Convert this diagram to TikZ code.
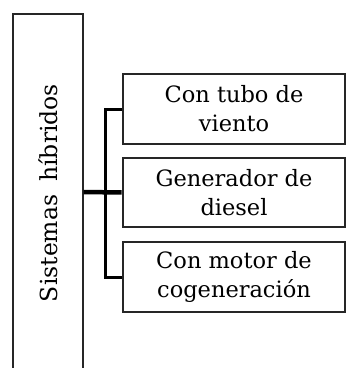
\documentclass[tikz,border=0pt]{standalone}
\usepackage{fontspec}
\setmainfont{DejaVu Serif}
\usetikzlibrary{shadows}
\tikzset{
  box/.style={draw=black!85, line width=1.3pt, fill=white, align=center,
    font=\fontsize{22.5}{29}\selectfont, inner sep=0pt,
    drop shadow={shadow xshift=1.4pt, shadow yshift=-1.4pt, fill=black!50, opacity=0.7}},
  conn/.style={draw=black, line width=3pt, line cap=butt, line join=miter},
}
\begin{document}
\begin{tikzpicture}[x=1pt,y=1pt]
\clip (0,0) rectangle (346,368);
\fill[white] (0,0) rectangle (346,368);
\node[box, minimum width=70pt, minimum height=370pt] (sys) at (48,169)
  {\rotatebox{90}{\fontsize{23.5}{29}\selectfont\hspace*{12pt}Sistemas\hspace{13pt}híbridos}};
\node[box, minimum width=222pt, minimum height=70pt] (b1) at (234,259) {Con tubo de\\viento};
\node[box, minimum width=222pt, minimum height=69pt] (b2) at (234,175.5) {Generador de\\diesel};
\node[box, minimum width=222pt, minimum height=70pt] (b3) at (234,91) {Con motor de\\cogeneración};
\coordinate (j) at (106,176);
\draw[conn] ([xshift=-0.8pt]b1.west) -| (j) |- ([xshift=-0.8pt]b3.west);
\draw[conn, line width=4.5pt] (sys.east |- j) -- ([xshift=-0.8pt]b2.west);
\end{tikzpicture}
\end{document}
